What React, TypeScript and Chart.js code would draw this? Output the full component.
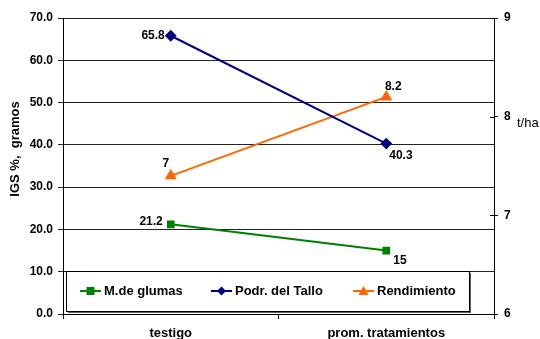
import React, { useEffect, useRef } from "react";
import { Chart, registerables } from "chart.js";

Chart.register(...registerables);

const categories = ["testigo", "prom. tratamientos"];
const glumasValues = [21.2, 15];
const talloValues = [65.8, 40.3];
const rendimientoValues = [7.4, 8.2];
const glumasLabels = ["21.2", "15"];
const talloLabels = ["65.8", "40.3"];
const rendimientoLabels = ["7", "8.2"];
const leftTitle = "IGS %,  gramos";
const rightTitle = "t/ha";

const FONT = "'Liberation Sans', Arial, sans-serif";

export default function App() {
  const ref = useRef<HTMLCanvasElement | null>(null);

  useEffect(() => {
    document.body.style.margin = "0";
    const canvas = ref.current;
    if (!canvas) return;

    const labelPlugin = {
      id: "valueLabels",
      afterDatasetsDraw(chart: any) {
        const ctx = chart.ctx;
        const place: any[][] = [
          [
            { dx: -8, dy: -3, align: "right" },
            { dx: 7, dy: 10, align: "left" },
          ],
          [
            { dx: -6, dy: 0, align: "right" },
            { dx: 3, dy: 12, align: "left" },
          ],
          [
            { dx: -5, dy: -12, align: "center" },
            { dx: 7, dy: -10, align: "center" },
          ],
        ];
        const texts = [glumasLabels, talloLabels, rendimientoLabels];
        ctx.save();
        ctx.font = `bold 12px ${FONT}`;
        ctx.fillStyle = "#000";
        ctx.textBaseline = "middle";
        chart.data.datasets.forEach((ds: any, i: number) => {
          const meta = chart.getDatasetMeta(i);
          meta.data.forEach((pt: any, j: number) => {
            const p = place[i][j];
            ctx.textAlign = p.align;
            ctx.fillText(texts[i][j], pt.x + p.dx, pt.y + p.dy);
          });
        });
        ctx.restore();
      },
    };

    const decorPlugin = {
      id: "decor",
      afterDraw(chart: any) {
        const ctx = chart.ctx;
        const area = chart.chartArea;
        ctx.save();
        // inner ticks on right axis
        const y1 = chart.scales.y1;
        ctx.strokeStyle = "#000";
        ctx.lineWidth = 1;
        y1.ticks.forEach((t: any) => {
          const py = Math.round(y1.getPixelForValue(t.value)) + 0.5;
          ctx.beginPath();
          ctx.moveTo(area.right - 4, py);
          ctx.lineTo(area.right, py);
          ctx.stroke();
        });
        // left axis title
        ctx.font = `bold 13px ${FONT}`;
        ctx.fillStyle = "#000";
        ctx.textAlign = "center";
        ctx.textBaseline = "middle";
        ctx.translate(15, 149);
        ctx.rotate(-Math.PI / 2);
        ctx.fillText(leftTitle, 0, 0);
        ctx.setTransform(1, 0, 0, 1, 0, 0);
        // right axis title
        ctx.font = `13px ${FONT}`;
        ctx.textAlign = "left";
        ctx.fillText(rightTitle, 517, 123);

        // legend
        const bx = 66, by = 271, bw = 403, bh = 40;
        ctx.fillStyle = "#606060";
        ctx.fillRect(bx + 2, by + 2, bw, bh);
        ctx.fillStyle = "#fff";
        ctx.fillRect(bx, by, bw, bh);
        ctx.strokeStyle = "#000";
        ctx.lineWidth = 1;
        ctx.strokeRect(bx + 0.5, by + 0.5, bw, bh);
        const entries = [
          { x: 80, style: "rect" },
          { x: 211, style: "rectRot" },
          { x: 353, style: "triangle" },
        ];
        const cy = 291;
        ctx.font = `bold 13px ${FONT}`;
        ctx.textBaseline = "middle";
        chart.data.datasets.forEach((ds: any, i: number) => {
          const e = entries[i];
          ctx.strokeStyle = ds.borderColor;
          ctx.lineWidth = 2;
          ctx.beginPath();
          ctx.moveTo(e.x, cy);
          ctx.lineTo(e.x + 21, cy);
          ctx.stroke();
          ctx.fillStyle = ds.borderColor;
          const cx = e.x + 10.5;
          ctx.beginPath();
          if (e.style === "rect") {
            ctx.rect(cx - 4, cy - 4, 8, 8);
          } else if (e.style === "rectRot") {
            ctx.moveTo(cx, cy - 4.5);
            ctx.lineTo(cx + 4.5, cy);
            ctx.lineTo(cx, cy + 4.5);
            ctx.lineTo(cx - 4.5, cy);
            ctx.closePath();
          } else {
            ctx.moveTo(cx, cy - 5);
            ctx.lineTo(cx + 5, cy + 4);
            ctx.lineTo(cx - 5, cy + 4);
            ctx.closePath();
          }
          ctx.fill();
          ctx.fillStyle = "#000";
          ctx.textAlign = "left";
          ctx.fillText(ds.label, e.x + 24, cy);
        });
        ctx.restore();
      },
    };

    const chart = new Chart(canvas, {
      type: "line",
      data: {
        labels: categories,
        datasets: [
          {
            label: "M.de glumas",
            data: glumasValues,
            borderColor: "#008000",
            backgroundColor: "#008000",
            pointStyle: "rect",
            pointRadius: 4,
            borderWidth: 2,
            yAxisID: "y",
          },
          {
            label: "Podr. del Tallo",
            data: talloValues,
            borderColor: "#000080",
            backgroundColor: "#000080",
            pointStyle: "rectRot",
            pointRadius: 4.5,
            borderWidth: 2,
            yAxisID: "y",
          },
          {
            label: "Rendimiento",
            data: rendimientoValues,
            borderColor: "#FF6600",
            backgroundColor: "#FF6600",
            pointStyle: "triangle",
            pointRadius: 5,
            borderWidth: 2,
            yAxisID: "y1",
          },
        ],
      },
      options: {
        animation: false,
        responsive: false,
        maintainAspectRatio: false,
        layout: { padding: { top: 18, left: 0, right: 0, bottom: 0 } },
        plugins: {
          legend: { display: false },
          tooltip: { enabled: false },
        },
        elements: { line: { tension: 0 }, point: { borderWidth: 0 } },
        scales: {
          x: {
            type: "category",
            offset: true,
            grid: {
              offset: true,
              drawOnChartArea: false,
              drawTicks: true,
              tickLength: 5,
              color: "#000",
            },
            border: { display: true, color: "#000", width: 1 },
            ticks: {
              font: { family: FONT, size: 13, weight: "bold" },
              color: "#000",
              padding: 7,
            },
            afterFit(scale: any) {
              scale.height = 25;
            },
          },
          y: {
            position: "left",
            min: 0,
            max: 70,
            ticks: {
              stepSize: 10,
              font: { family: FONT, size: 12, weight: "bold" },
              color: "#000",
              padding: 5,
              callback: (v: any) => Number(v).toFixed(1),
            },
            grid: {
              color: "#222",
              lineWidth: 1,
              drawTicks: true,
              tickLength: 5,
            },
            border: { display: true, color: "#000", width: 1 },
            afterFit(scale: any) {
              scale.width = 63;
            },
          },
          y1: {
            position: "right",
            min: 6,
            max: 9,
            ticks: {
              stepSize: 1,
              font: { family: FONT, size: 12, weight: "bold" },
              color: "#000",
              padding: 6,
            },
            grid: {
              drawOnChartArea: false,
              drawTicks: true,
              tickLength: 4,
              color: "#000",
            },
            border: { display: true, color: "#000", width: 1 },
            afterFit(scale: any) {
              scale.width = 46;
            },
          },
        },
      },
      plugins: [labelPlugin, decorPlugin],
    } as any);

    return () => chart.destroy();
  }, []);

  return (
    <div style={{ width: 540, height: 339, background: "#fff" }}>
      <canvas ref={ref} width={540} height={339} style={{ display: "block" }} />
    </div>
  );
}
